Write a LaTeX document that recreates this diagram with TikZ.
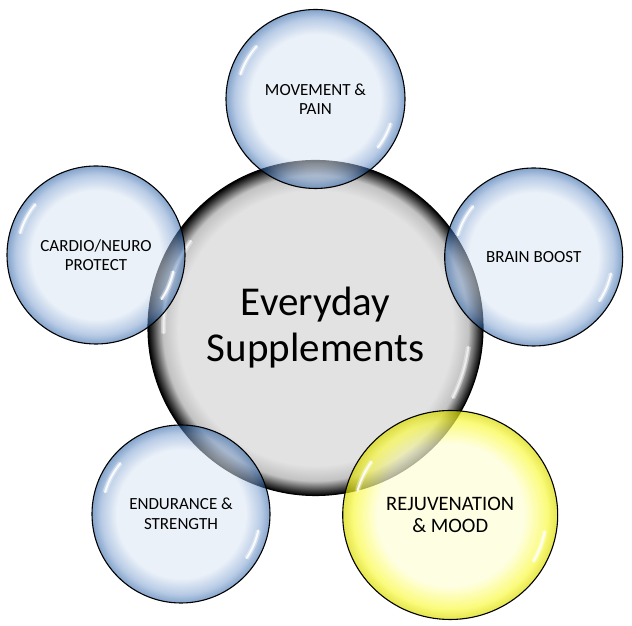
\documentclass[tikz,border=0pt]{standalone}
\usepackage{fontspec}
\setmainfont{Carlito}
\usetikzlibrary{calc,shapes.geometric}
\definecolor{BlueIn}{RGB}{219,230,244}
\definecolor{BlueMid}{RGB}{125,160,208}
\definecolor{BlueRim}{RGB}{30,88,160}
\definecolor{CoreIn}{HTML}{E2E2E2}
\definecolor{CoreMid}{HTML}{C2C2C2}
\definecolor{CoreDark}{HTML}{3A3A3A}
\definecolor{SunIn}{RGB}{254,254,214}
\definecolor{SunMid}{RGB}{250,250,70}
\definecolor{SunRim}{RGB}{218,218,0}
\pgfdeclareradialshading{orbblue}{\pgfpoint{0bp}{0bp}}{color(0bp)=(BlueIn); color(18bp)=(BlueIn); color(22.5bp)=(BlueMid); color(25bp)=(BlueRim); color(50bp)=(BlueRim)}
\pgfdeclareradialshading{orbcore}{\pgfpoint{0bp}{0bp}}{color(0bp)=(CoreIn); color(20.5bp)=(CoreIn); color(22.8bp)=(CoreMid); color(24.3bp)=(CoreDark); color(25bp)=(black); color(50bp)=(black)}
\pgfdeclareradialshading{orbsun}{\pgfpoint{0bp}{0bp}}{color(0bp)=(SunIn); color(17bp)=(SunIn); color(22.5bp)=(SunMid); color(25bp)=(SunRim); color(50bp)=(SunRim)}
\tikzset{
  orb/.style={circle,draw=black,line width=1.1pt,inner sep=0pt,align=center,shade,
    fill opacity=0.55,text opacity=1,font=\fontsize{17}{19.5}\selectfont},
  gleam/.style={white,line width=2pt,line cap=round,opacity=0.9,
    preaction={draw,white,line width=5pt,opacity=0.35}}
}

\begin{document}
\begin{tikzpicture}[x=1pt,y=1pt]
    \useasboundingbox (0,0) rectangle (632,626);
    % centre
    \node[circle,draw=black,line width=1.1pt,inner sep=0pt,shade,shading=orbcore,
      minimum size=335pt,align=center,font=\fontsize{41}{46}\selectfont] (core) at (315.5,298) {Everyday\\Supplements};
    \draw[gleam,opacity=0.6] ($(core.center)+(145:152)$) arc[start angle=145,end angle=182,radius=152];
    \draw[gleam,opacity=0.6] ($(core.center)+(-7:154)$) arc[start angle=-7,end angle=-27,radius=154];
    % outer bubbles
    \node[orb,shading=orbblue,minimum size=179pt] (move) at (315.5,527) {MOVEMENT \&\\PAIN};
    \draw[gleam] ($(move.center)+(138:79)$) arc[start angle=138,end angle=162,radius=79];
    \draw[gleam] ($(move.center)+(-18:79)$) arc[start angle=-18,end angle=-38,radius=79];
    \node[orb,shading=orbblue,minimum size=178pt] (brain) at (533.7,369) {BRAIN BOOST};
    \draw[gleam] ($(brain.center)+(140:79)$) arc[start angle=140,end angle=164,radius=79];
    \draw[gleam] ($(brain.center)+(-12:79)$) arc[start angle=-12,end angle=-34,radius=79];
    \node[orb,shading=orbblue,minimum size=178pt] (cardio) at (96,371) {CARDIO/NEURO\\PROTECT};
    \draw[gleam] ($(cardio.center)+(140:79)$) arc[start angle=140,end angle=164,radius=79];
    \draw[gleam] ($(cardio.center)+(-12:79)$) arc[start angle=-12,end angle=-34,radius=79];
    \node[orb,shading=orbblue,minimum size=178pt] (endur) at (181,112) {ENDURANCE \&\\STRENGTH};
    \draw[gleam] ($(endur.center)+(140:79)$) arc[start angle=140,end angle=164,radius=79];
    \draw[gleam] ($(endur.center)+(-12:79)$) arc[start angle=-12,end angle=-34,radius=79];
    \node[orb,ellipse,shading=orbsun,fill opacity=0.7,minimum width=215pt,minimum height=209pt,
      font=\fontsize{20.5}{22.5}\selectfont] (rejuv) at (450.2,111) {REJUVENATION\\\& MOOD};
    \draw[gleam] ($(rejuv.center)+(145:96 and 93)$) arc[start angle=145,end angle=165,x radius=96,y radius=93];
    \draw[gleam] ($(rejuv.center)+(-10:96 and 93)$) arc[start angle=-10,end angle=-30,x radius=96,y radius=93];
\end{tikzpicture}
\end{document}
